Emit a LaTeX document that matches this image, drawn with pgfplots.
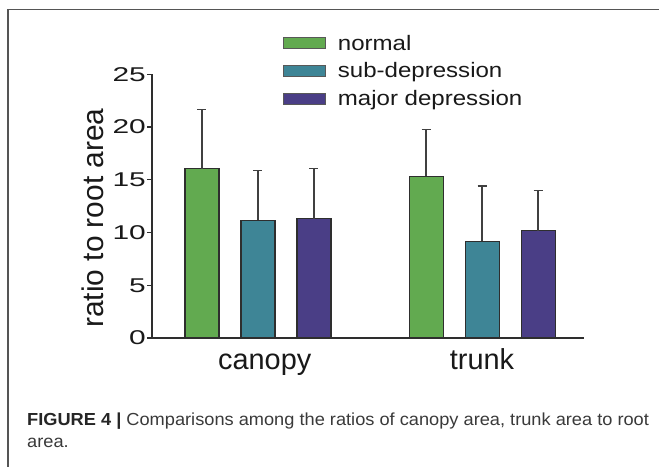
\documentclass[border=0pt]{standalone}
\usepackage{pgfplots}
\pgfplotsset{compat=1.18}
\usepackage{fontspec}
\setmainfont{Liberation Sans}
\newfontfamily\tickfont[FakeStretch=1.5]{Liberation Sans}
\newfontfamily\legfont[FakeStretch=1.15]{Liberation Sans}
\newfontfamily\capfont[FakeStretch=1.045]{Liberation Sans}
\definecolor{cnormal}{HTML}{62AA50}
\definecolor{csub}{HTML}{3E8596}
\definecolor{cmajor}{HTML}{4A3E86}
\definecolor{edge}{HTML}{2E2E2E}
\definecolor{errc}{HTML}{404040}
\definecolor{frame}{HTML}{555555}
\definecolor{capc}{HTML}{3A3A3A}
\begin{document}
\begin{tikzpicture}
\path[use as bounding box] (0,0) rectangle (659bp,-467bp);
\fill[white] (0,0) rectangle (659bp,-467bp);
\draw[frame, line width=1.5bp] (8bp,-467bp) -- (8bp,-9.3bp) -- (659bp,-9.3bp);
\begin{axis}[
  at={(152bp,-338bp)}, anchor=south west,
  scale only axis, width=432bp, height=263.75bp,
  xmin=-0.473, xmax=1.455, ymin=0, ymax=25,
  axis x line*=bottom, axis y line*=left,
  axis line style={edge, line width=1.3bp},
  ybar, bar width=34bp, ybar=22bp,
  xtick={0.03,1}, xticklabels={canopy,trunk},
  xtick style={draw=none},
  xticklabel style={font=\fontsize{29}{29}\selectfont, text=black!90, text height=21bp, text depth=6bp, inner sep=0pt, yshift=-5bp},
  ytick={0,5,10,15,20,25},
  tick align=outside, major tick length=5bp,
  ytick style={edge, line width=1.2bp},
  yticklabel style={font=\tickfont\fontsize{20}{20}\selectfont, text=black!90, inner sep=1bp},
  /pgf/number format/assume math mode=true,
  ylabel={ratio to root area},
  ylabel style={font=\fontsize{30}{30}\selectfont, text=black!90, at={(axis description cs:-0.137,0.455)}, anchor=center, rotate=0},
  legend style={draw=none, fill=none, inner sep=0pt, at={(axis description cs:0.303,1.157)}, anchor=north west, font=\legfont\fontsize{21}{21}\selectfont, text=black!90, row sep=7bp,
    /tikz/every odd column/.append style={column sep=10bp}},
  legend cell align=left,
  legend image code/.code={\draw[#1, draw=edge!80, line width=0.8bp] (0bp,-5.5bp) rectangle (42bp,5.5bp);},
  error bars/error bar style={errc, line width=1.4bp},
  error bars/error mark options={errc, rotate=90, mark size=4.5bp, line width=1.4bp},
]
\addplot+[fill=cnormal, draw=edge, line width=1.1bp,
  error bars/.cd, y dir=plus, y explicit]
  coordinates {(0,16.06) +- (0,5.61) (1,15.32) +- (0,4.42)};
\addplot+[fill=csub, draw=edge, line width=1.1bp,
  error bars/.cd, y dir=plus, y explicit]
  coordinates {(0,11.14) +- (0,4.73) (1,9.19) +- (0,5.23)};
\addplot+[fill=cmajor, draw=edge, line width=1.1bp,
  error bars/.cd, y dir=plus, y explicit]
  coordinates {(0,11.30) +- (0,4.76) (1,10.16) +- (0,3.82)};
\legend{normal, sub-depression, major depression}
\end{axis}
\node[anchor=base west, inner sep=0pt, font=\capfont\fontsize{17.5}{17.5}\selectfont, text=capc] at (27bp,-425.7bp) {\textbf{\color{black!85}FIGURE 4 |} Comparisons among the ratios of canopy area, trunk area to root};
\node[anchor=base west, inner sep=0pt, font=\capfont\fontsize{17.5}{17.5}\selectfont, text=capc] at (27bp,-447bp) {area.};
\end{tikzpicture}
\end{document}
